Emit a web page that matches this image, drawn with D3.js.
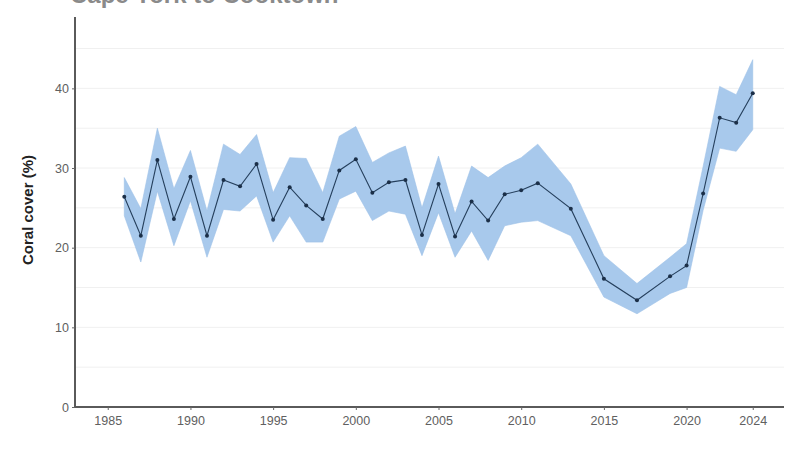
<!DOCTYPE html>
<html>
<head>
<meta charset="utf-8">
<script src="https://cdn.jsdelivr.net/npm/d3@7"></script>
<style>
  html, body { margin: 0; padding: 0; background: #fff; }
  svg { display: block; font-family: "Liberation Sans", Arial, sans-serif; }
</style>
</head>
<body>
<svg id="chart" width="810" height="458"></svg>
<script>
const title = "Cape York to Cooktown";
const yLabel = "Coral cover (%)";
const years = [1986,1987,1988,1989,1990,1991,1992,1993,1994,1995,1996,1997,1998,1999,2000,2001,2002,2003,2004,2005,2006,2007,2008,2009,2010,2011,2013,2015,2017,2019,2020,2021,2022,2023,2024];
const meanCover = [26.4,21.5,31.0,23.6,28.9,21.5,28.5,27.7,30.5,23.5,27.6,25.3,23.6,29.7,31.1,26.9,28.2,28.5,21.6,28.0,21.4,25.8,23.4,26.7,27.2,28.1,24.9,16.1,13.4,16.4,17.75,26.8,36.3,35.7,39.4];
const upperCI = [28.8,24.9,35.0,27.4,32.2,24.6,33.0,31.7,34.2,26.9,31.3,31.2,26.9,34.0,35.2,30.7,31.9,32.75,25.0,31.5,24.25,30.25,28.8,30.25,31.3,33.0,28.0,19.0,15.5,18.8,20.5,30.2,40.25,39.2,43.6];
const lowerCI = [24.0,18.2,27.1,20.25,25.9,18.8,24.8,24.6,26.5,20.7,24.0,20.7,20.7,26.1,27.1,23.4,24.6,24.2,19.0,24.4,18.8,22.1,18.4,22.75,23.2,23.4,21.5,13.8,11.7,14.25,15.0,24.7,32.5,32.1,34.8];
const xTicks = [1985,1990,1995,2000,2005,2010,2015,2020,2024];
const yTicks = [0,10,20,30,40];
const yGrid = [5,10,15,20,25,30,35,40,45];

(function () {
const data = years.map((yr,i) => ({year:yr, mean:meanCover[i], lo:lowerCI[i], hi:upperCI[i]}));

const svg = d3.select("#chart");
const mLeft = 75, mRight = 784, mTop = 17, mBottom = 407;

const x = d3.scaleLinear().domain([1983.02, 2025.89]).range([mLeft, mRight]);
const y = d3.scaleLinear().domain([0, 48.96]).range([mBottom, mTop]);

// gridlines
svg.append("g").selectAll("line").data(yGrid).join("line")
  .attr("x1", mLeft).attr("x2", mRight)
  .attr("y1", d => y(d)).attr("y2", d => y(d))
  .attr("stroke", "#f0f0f0").attr("stroke-width", 1);

// band
svg.append("path").datum(data)
  .attr("d", d3.area().x(d => x(d.year)).y0(d => y(d.lo)).y1(d => y(d.hi)))
  .attr("fill", "#a8c9ec").attr("stroke", "#9ec1e7").attr("stroke-width", 0.6);

// line
svg.append("path").datum(data)
  .attr("d", d3.line().x(d => x(d.year)).y(d => y(d.mean)))
  .attr("fill", "none").attr("stroke", "#253f5c").attr("stroke-width", 1.1);

// points
svg.append("g").selectAll("circle").data(data).join("circle")
  .attr("cx", d => x(d.year)).attr("cy", d => y(d.mean)).attr("r", 2)
  .attr("fill", "#1b2f48");

// x axis
const xAxis = svg.append("g").attr("transform", `translate(0,${mBottom})`)
  .call(d3.axisBottom(x).tickValues(xTicks).tickFormat(d3.format("d")).tickSize(3).tickSizeOuter(0));
xAxis.select(".domain").attr("stroke", "#5a5a5a").attr("stroke-width", 2).attr("d", `M${mLeft},0H${mRight}`);
xAxis.selectAll(".tick line").attr("stroke", "#666");
xAxis.selectAll(".tick text").attr("fill", "#606060").attr("font-size", 12.5).attr("dy", "0.95em");

// y axis
const yAxis = svg.append("g").attr("transform", `translate(${mLeft},0)`)
  .call(d3.axisLeft(y).tickValues(yTicks).tickSize(3).tickSizeOuter(0));
yAxis.select(".domain").attr("stroke", "#5a5a5a").attr("stroke-width", 2).attr("d", `M0,${mTop}V${mBottom}`);
yAxis.selectAll(".tick line").attr("stroke", "#666");
yAxis.selectAll(".tick text").attr("fill", "#606060").attr("font-size", 12.5);

// y label
svg.append("text")
  .attr("transform", `translate(33,210) rotate(-90)`)
  .attr("text-anchor", "middle")
  .attr("font-size", 15).attr("font-weight", "bold").attr("fill", "#222")
  .text(yLabel);

// title (cut at top, as in the reference)
svg.append("text")
  .attr("x", 70).attr("y", 3)
  .attr("font-size", 24).attr("font-weight", "bold").attr("fill", "#8a8a8a")
  .text(title);
})();
</script>
</body>
</html>
